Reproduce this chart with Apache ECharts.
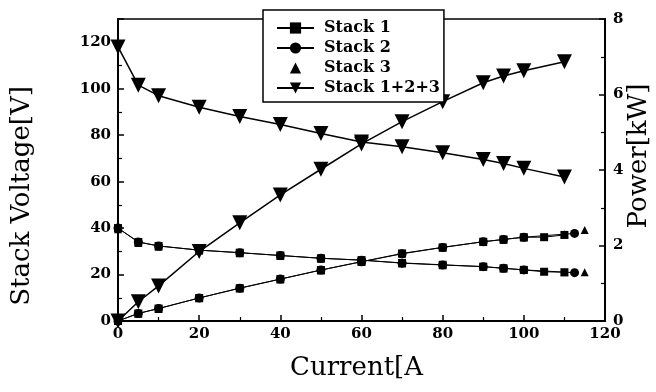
<!DOCTYPE html>
<html><head><meta charset="utf-8">
<script src="https://cdn.jsdelivr.net/npm/echarts@6/dist/echarts.min.js"></script>
<style>html,body{margin:0;padding:0;background:#fff}#c{width:656px;height:392px}</style>
</head><body><div id="c"></div>
<script>
// ---- data ----
const legendNames = ['Stack 1', 'Stack 2', 'Stack 3', 'Stack 1+2+3'];

const totalCurrent = [0, 5, 10, 20, 30, 40, 50, 60, 70, 80, 90, 95, 100, 110];
const totalVoltage = [118, 101.5, 97, 92, 88, 84.6, 80.7, 77.1, 75, 72.4, 69.5, 67.8, 65.7, 62];
const totalPower = [0, 0.51, 0.93, 1.84, 2.6, 3.34, 4.02, 4.69, 5.28, 5.81, 6.31, 6.49, 6.63, 6.87];

const stack1Current = [0, 5, 10, 20, 30, 40, 50, 60, 70, 80, 90, 95, 100, 105, 110];
const stack1Voltage = [40, 34, 32.3, 30.5, 29.4, 28.2, 27, 26.2, 25, 24.2, 23.4, 22.7, 22, 21.2, 21];
const stack1Power = [0, 0.2, 0.33, 0.61, 0.87, 1.11, 1.35, 1.57, 1.79, 1.95, 2.1, 2.16, 2.22, 2.22, 2.28];

const stack2Current = [0, 5, 10, 20, 30, 40, 50, 60, 70, 80, 90, 95, 100, 112.5];
const stack2Voltage = [40, 34, 32.3, 30.5, 29.4, 28.2, 27, 26.2, 24.9, 24.1, 23.4, 22.7, 22, 20.8];
const stack2Power = [0, 0.2, 0.33, 0.61, 0.87, 1.11, 1.35, 1.57, 1.78, 1.95, 2.1, 2.16, 2.22, 2.32];

const stack3Current = [0, 5, 10, 20, 30, 40, 50, 60, 70, 80, 90, 95, 100, 110, 115];
const stack3Voltage = [39.5, 33.6, 32, 30.3, 29.2, 28, 26.8, 26, 24.8, 24, 23.3, 22.6, 21.9, 21, 21];
const stack3Power = [0, 0.19, 0.32, 0.6, 0.86, 1.1, 1.34, 1.56, 1.78, 1.94, 2.09, 2.15, 2.21, 2.3, 2.41];

const xTicks = { min: 0, max: 120, interval: 20 };
const vTicks = { min: 0, max: 130, interval: 20, lastLabel: 120 };
const pTicks = { min: 0, max: 8, interval: 2 };

// ---- helpers ----
const pairs = (xs, ys) => xs.map((x, i) => [x, ys[i]]);
const FONT = '"DejaVu Serif", serif';
const black = '#000';

function lineSeries(name, xs, ys, axis, symbol, size, rotate, width, lineOpacity) {
  return {
    name, type: 'line', yAxisIndex: axis, data: pairs(xs, ys),
    symbol, symbolSize: size, symbolRotate: rotate, showAllSymbol: true,
    itemStyle: { color: black }, lineStyle: { color: black, width, opacity: lineOpacity == null ? 1 : lineOpacity },
    emphasis: { disabled: true }
  };
}

const axisCommon = {
  axisLine: { show: true, lineStyle: { color: black, width: 2 } },
  axisTick: { show: true, inside: true, length: 6, lineStyle: { color: black, width: 1.5 } },
  minorTick: { show: true, splitNumber: 2, length: 4, lineStyle: { color: black, width: 1.2 } },
  splitLine: { show: false },
  axisLabel: { color: black, fontFamily: FONT, fontSize: 15, fontWeight: 'bold' }
};

const chart = echarts.init(document.getElementById('c'), null, { renderer: 'canvas' });
chart.setOption({
  animation: false,
  backgroundColor: '#fff',
  grid: { left: 118, right: 51, top: 19, bottom: 71, show: true, borderColor: black, borderWidth: 1.5 },
  legend: {
    data: legendNames, orient: 'vertical', left: 263, top: 10,
    backgroundColor: '#fff', borderColor: black, borderWidth: 1.5, borderRadius: 0,
    padding: [10, 4, 6, 13], itemGap: 4, itemWidth: 37, itemHeight: 14,
    textStyle: { color: black, fontFamily: FONT, fontSize: 16, fontWeight: 'bold', padding: [0, 0, 0, 5] },
    selectedMode: false
  },
  xAxis: Object.assign({}, axisCommon, {
    type: 'value', min: xTicks.min, max: xTicks.max, interval: xTicks.interval,
    name: 'Current[A', nameLocation: 'middle', nameGap: 34,
    nameTextStyle: { color: black, fontFamily: FONT, fontSize: 26, padding: [0, 10, 0, 0] },
    axisLabel: Object.assign({}, axisCommon.axisLabel, { margin: 6 })
  }),
  yAxis: [
    Object.assign({}, axisCommon, {
      type: 'value', position: 'left', min: vTicks.min, max: vTicks.max, interval: vTicks.interval,
      axisLabel: Object.assign({}, axisCommon.axisLabel, { margin: 7, formatter: v => (v > vTicks.lastLabel ? '' : String(v)) })
    }),
    Object.assign({}, axisCommon, {
      type: 'value', position: 'right', min: pTicks.min, max: pTicks.max, interval: pTicks.interval,
      axisLabel: Object.assign({}, axisCommon.axisLabel, { margin: 8 })
    })
  ],
  graphic: [
    { type: 'text', x: 22, y: 196, rotation: Math.PI / 2,
      style: { text: 'Stack Voltage[V]', fill: black, font: '26px ' + FONT, textAlign: 'center', textVerticalAlign: 'middle' } },
    { type: 'text', x: 639, y: 156, rotation: Math.PI / 2,
      style: { text: 'Power[kW]', fill: black, font: '26px ' + FONT, textAlign: 'center', textVerticalAlign: 'middle' } }
  ],
  series: [
    lineSeries('Stack 1', stack1Current, stack1Voltage, 0, 'rect', 8, 0, 1),
    lineSeries('Stack 1', stack1Current, stack1Power, 1, 'rect', 8, 0, 1),
    lineSeries('Stack 2', stack2Current, stack2Voltage, 0, 'circle', 9, 0, 1),
    lineSeries('Stack 2', stack2Current, stack2Power, 1, 'circle', 9, 0, 1),
    lineSeries('Stack 3', stack3Current, stack3Voltage, 0, 'triangle', 8, 0, 1, 0),
    lineSeries('Stack 3', stack3Current, stack3Power, 1, 'triangle', 8, 0, 1, 0),
    lineSeries('Stack 1+2+3', totalCurrent, totalVoltage, 0, 'triangle', 15, 180, 1.5),
    lineSeries('Stack 1+2+3', totalCurrent, totalPower, 1, 'triangle', 15, 180, 1.5)
  ]
});
</script>
</body></html>
